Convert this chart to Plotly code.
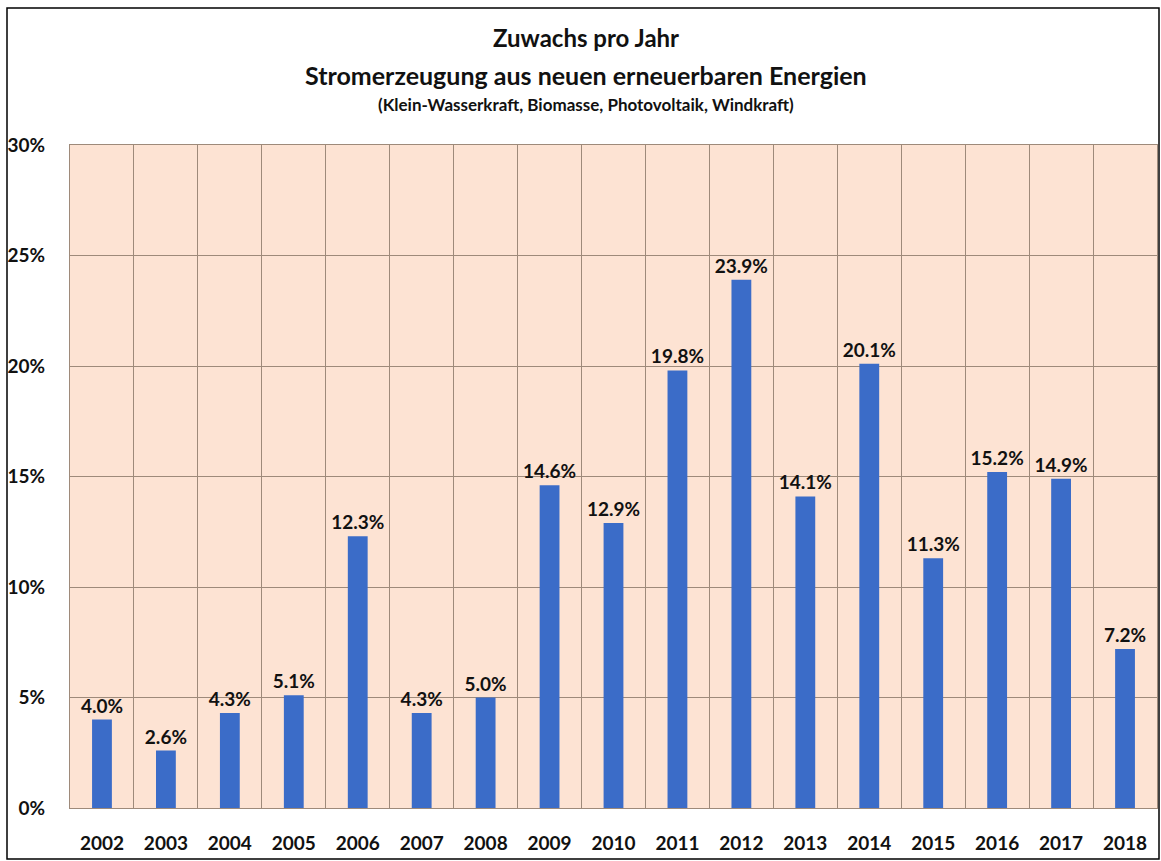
import plotly.graph_objects as go

years = ["2002", "2003", "2004", "2005", "2006", "2007", "2008", "2009", "2010",
         "2011", "2012", "2013", "2014", "2015", "2016", "2017", "2018"]
growth_pct = [4.0, 2.6, 4.3, 5.1, 12.3, 4.3, 5.0, 14.6, 12.9,
              19.8, 23.9, 14.1, 20.1, 11.3, 15.2, 14.9, 7.2]
growth = [v / 100 for v in growth_pct]

title_l1 = "Zuwachs pro Jahr"
title_l2 = "Stromerzeugung aus neuen erneuerbaren Energien"
title_l3 = "(Klein-Wasserkraft, Biomasse, Photovoltaik, Windkraft)"

FONT = "Lato"
GRID = "#9e8a7a"
W, H = 1161, 861
ML, MR, MT, MB = 70, 4, 145, 53
plot_w = W - ML - MR
plot_h = H - MT - MB


def px_x(px):
    return (px - ML) / plot_w


def px_y(py):
    return (H - MB - py) / plot_h


fig = go.Figure(go.Bar(
    x=years, y=growth,
    marker=dict(color="#3b6cc8", line=dict(width=0)),
    width=0.31,
    texttemplate="%{y:.1%}",
    textposition="outside",
    constraintext="none",
    textfont=dict(family=FONT, size=19, color="#111111", weight="bold"),
    cliponaxis=False,
))

titles = [(title_l1, 38, 24), (title_l2, 75, 25), (title_l3, 104, 17)]
fig.update_layout(
    width=W, height=H,
    paper_bgcolor="white",
    plot_bgcolor="#fde3d3",
    margin=dict(l=ML, r=MR, t=MT, b=MB),
    showlegend=False,
    font=dict(family=FONT, color="#111111"),
    annotations=[
        dict(text="<b>%s</b>" % t, x=px_x(586), y=px_y(yy), xref="paper", yref="paper",
             yanchor="middle", showarrow=False, font=dict(size=s, family=FONT))
        for t, yy, s in titles
    ],
)

fig.update_xaxes(
    type="category",
    tickson="boundaries",
    showgrid=True, gridcolor=GRID, gridwidth=1,
    showline=True, linecolor=GRID, mirror=True,
    ticks="", ticklabelstandoff=18,
    tickfont=dict(family=FONT, size=19, color="#111111", weight="bold"),
)
fig.update_yaxes(
    range=[0, 0.30],
    tickvals=[0, 0.05, 0.10, 0.15, 0.20, 0.25, 0.30],
    tickformat=".0%",
    showgrid=True, gridcolor=GRID, gridwidth=1,
    showline=True, linecolor=GRID, mirror=True,
    zeroline=False,
    ticks="", ticklabelstandoff=20,
    tickfont=dict(family=FONT, size=19, color="#111111", weight="bold"),
)

fig.add_shape(type="rect", xref="paper", yref="paper",
              x0=px_x(7), x1=px_x(1159), y0=px_y(859), y1=px_y(8),
              line=dict(color="black", width=1.5), fillcolor="rgba(0,0,0,0)", layer="below")

fig.write_html("out.html", config={"displayModeBar": False},
               post_script="document.body.style.margin='0';document.body.style.padding='0';")
